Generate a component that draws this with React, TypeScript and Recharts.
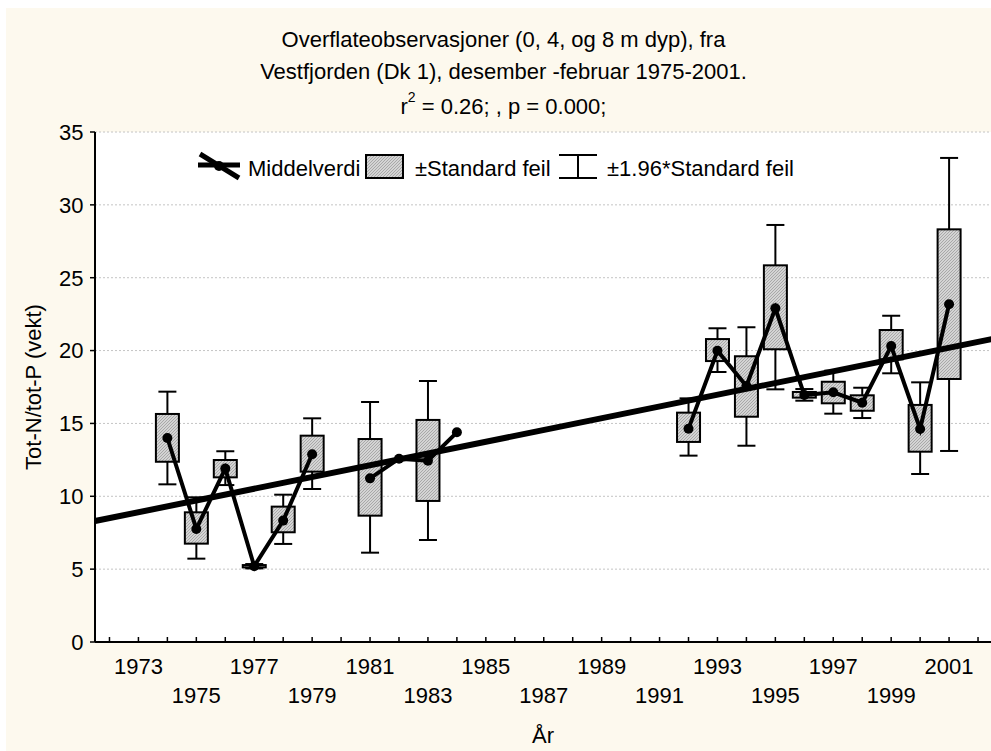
import React from "react";
import {
  ComposedChart,
  Bar,
  Line,
  XAxis,
  YAxis,
  CartesianGrid,
  ReferenceLine,
} from "recharts";

const FONT = '"Liberation Sans", Arial, sans-serif';
const CREAM = "#fdf9ee";

// one entry per winter, gaps where nothing was sampled
const years = [
  1974, 1975, 1976, 1977, 1978, 1979, 1980, 1981, 1982, 1983, 1984, 1985, 1986,
  1987, 1988, 1989, 1990, 1991, 1992, 1993, 1994, 1995, 1996, 1997, 1998, 1999,
  2000, 2001,
];
const means = [
  14.0, 7.76, 11.9, 5.2, 8.33, 12.88, null, 11.23, 12.58, 12.44, 14.39, null,
  null, null, null, null, null, null, 14.64, 19.99, 17.57, 22.9, 16.95, 17.14,
  16.42, 20.31, 14.62, 23.18,
];
// mean +/- standard error (box)
const seLow = [
  12.37, 6.75, 11.3, 5.12, 7.53, 11.69, null, 8.67, null, 9.68, null, null,
  null, null, null, null, null, null, 13.73, 19.28, 15.46, 20.09, 16.77, 16.38,
  15.87, 19.4, 13.06, 18.05,
];
const seHigh = [
  15.65, 8.9, 12.49, 5.28, 9.29, 14.16, null, 13.93, null, 15.24, null, null,
  null, null, null, null, null, null, 15.74, 20.79, 19.61, 25.85, 17.16, 17.86,
  16.93, 21.41, 16.27, 28.32,
];
// mean +/- 1.96 * standard error (whiskers)
const ciLow = [
  10.82, 5.72, 10.77, 5.05, 6.73, 10.5, null, 6.13, null, 7.0, null, null, null,
  null, null, null, null, null, 12.79, 18.53, 13.47, 17.34, 16.56, 15.67, 15.37,
  18.44, 11.53, 13.11,
];
const ciHigh = [
  17.18, 9.93, 13.09, 5.35, 10.11, 15.35, null, 16.47, null, 17.91, null, null,
  null, null, null, null, null, null, 16.72, 21.53, 21.6, 28.62, 17.36, 18.62,
  17.45, 22.39, 17.82, 33.22,
];

const yearTicks = [
  1972, 1973, 1974, 1975, 1976, 1977, 1978, 1979, 1980, 1981, 1982, 1983, 1984,
  1985, 1986, 1987, 1988, 1989, 1990, 1991, 1992, 1993, 1994, 1995, 1996, 1997,
  1998, 1999, 2000, 2001, 2002,
];
const valueTicks = [0, 5, 10, 15, 20, 25, 30, 35];

// fitted trend, read at the two ends of the x range
const trendX = [1971.5, 2002.5];
const trendY = [8.3, 20.8];

const rows = years.map((year, i) => ({
  year,
  mean: means[i],
  box: seLow[i] == null ? null : [seLow[i], seHigh[i]],
  ciLow: ciLow[i],
  ciHigh: ciHigh[i],
}));

function BoxShape(props: any) {
  const { x, y, width, height, payload } = props;
  if (!payload || payload.box == null) return null;
  const [lo, hi] = payload.box;
  const top = Math.min(y, y + height);
  const h = Math.abs(height);
  const ppu = h / (hi - lo);
  const wTop = top - (payload.ciHigh - hi) * ppu;
  const wBottom = top + h + (lo - payload.ciLow) * ppu;
  const cx = x + width / 2;
  const cap = 9;
  return (
    <g>
      <line x1={cx} x2={cx} y1={wTop} y2={wBottom} stroke="#000" strokeWidth={2} />
      <line x1={cx - cap} x2={cx + cap} y1={wTop} y2={wTop} stroke="#000" strokeWidth={2} />
      <line x1={cx - cap} x2={cx + cap} y1={wBottom} y2={wBottom} stroke="#000" strokeWidth={2} />
      <rect x={x} y={top} width={width} height={h} fill="url(#hatch)" stroke="#000" strokeWidth={2} />
    </g>
  );
}

function YearTick(props: any) {
  const { x, y, payload } = props;
  const yr = payload.value;
  let label = null;
  if (yr % 2 === 1) {
    const row = (yr - 1973) % 4 === 0 ? 0 : 1;
    label = (
      <text x={x} y={y + (row === 0 ? 32 : 61)} textAnchor="middle" fill="#000" fontSize={22}>
        {yr}
      </text>
    );
  }
  return (
    <g>
      <line x1={x} x2={x} y1={y} y2={y - 5} stroke="#000" strokeWidth={1.5} />
      {label}
    </g>
  );
}

function TopTick(props: any) {
  const { x, y } = props;
  return <line x1={x} x2={x} y1={y} y2={y + 5} stroke="#000" strokeWidth={1.5} />;
}

function RightTick(props: any) {
  const { x, y } = props;
  return <line x1={x} x2={x - 5} y1={y} y2={y} stroke="#000" strokeWidth={1.5} />;
}

const frame = { stroke: "#000", strokeWidth: 2 };

export default function App() {
  return (
    <div
      style={{
        position: "absolute",
        left: 6,
        top: 8,
        width: 985,
        height: 743,
        overflow: "hidden",
        background: CREAM,
        fontFamily: FONT,
      }}
    >
      <ComposedChart
        width={990}
        height={743}
        data={rows}
        margin={{ top: 124, right: 3.5, bottom: 9, left: 49 }}
      >
        <defs>
          <pattern id="hatch" width="3" height="3" patternUnits="userSpaceOnUse">
            <rect width="3" height="3" fill="#d4d4d4" />
            <path d="M0,3 L3,0" stroke="#a8a8a8" strokeWidth="1" />
          </pattern>
        </defs>
        <CartesianGrid vertical={false} fill="#fff" fillOpacity={1} stroke="#c4c4c4" strokeDasharray="2 2" />
        <XAxis
          dataKey="year"
          type="number"
          domain={[1971.5, 2002.5]}
          ticks={yearTicks}
          interval={0}
          height={100}
          tickLine={false}
          tickSize={0}
          tickMargin={0}
          axisLine={frame}
          tick={<YearTick />}
        />
        <XAxis
          xAxisId="top"
          orientation="top"
          dataKey="year"
          type="number"
          domain={[1971.5, 2002.5]}
          ticks={yearTicks}
          interval={0}
          height={0}
          tickLine={false}
          tickSize={0}
          tickMargin={0}
          axisLine={frame}
          tick={<TopTick />}
        />
        <YAxis
          type="number"
          domain={[0, 35]}
          ticks={valueTicks}
          interval={0}
          width={40}
          tickSize={5}
          tickMargin={6.5}
          axisLine={frame}
          tickLine={{ stroke: "#000", strokeWidth: 1.5 }}
          tick={{ fill: "#000", fontSize: 22 }}
        />
        <YAxis
          yAxisId="right"
          orientation="right"
          type="number"
          domain={[0, 35]}
          ticks={valueTicks}
          interval={0}
          width={0}
          tickLine={false}
          tickSize={0}
          tickMargin={0}
          axisLine={frame}
          tick={<RightTick />}
        />
        <Bar dataKey="box" barSize={23} shape={<BoxShape />} isAnimationActive={false} />
        <ReferenceLine
          segment={[
            { x: trendX[0], y: trendY[0] },
            { x: trendX[1], y: trendY[1] },
          ]}
          stroke="#000"
          strokeWidth={6}
          ifOverflow="visible"
        />
        <Line
          dataKey="mean"
          stroke="#000"
          strokeWidth={4}
          dot={{ r: 5, fill: "#000", stroke: "#000", strokeWidth: 0 }}
          connectNulls={false}
          isAnimationActive={false}
        />
      </ComposedChart>

      <svg
        width={985}
        height={743}
        style={{ position: "absolute", left: 0, top: 0, pointerEvents: "none" }}
        fontFamily={FONT}
        fontSize={22}
      >
        <defs>
          <pattern id="hatchLegend" width="3" height="3" patternUnits="userSpaceOnUse">
            <rect width="3" height="3" fill="#d4d4d4" />
            <path d="M0,3 L3,0" stroke="#a8a8a8" strokeWidth="1" />
          </pattern>
        </defs>
        <text x={497.5} y={39} textAnchor="middle" fill="#000">
          Overflateobservasjoner (0, 4, og 8 m dyp), fra
        </text>
        <text x={497.5} y={71} textAnchor="middle" fill="#000">
          Vestfjorden (Dk 1), desember -februar 1975-2001.
        </text>
        <text x={497.5} y={106} textAnchor="middle" fill="#000">
          r<tspan fontSize={14} dy={-12}>2</tspan>
          <tspan dy={12}> = 0.26; , p = 0.000;</tspan>
        </text>

        {/* legend */}
        <line x1={192} x2={234} y1={157} y2={157} stroke="#000" strokeWidth={5} />
        <line x1={194} x2={233} y1={146} y2={170} stroke="#000" strokeWidth={5} />
        <circle cx={213} cy={158} r={5} fill="#000" />
        <text x={242} y={168} fill="#000">Middelverdi</text>
        <rect x={360} y={147} width={37} height={23} fill="url(#hatchLegend)" stroke="#000" strokeWidth={2} />
        <text x={409} y={168} fill="#000">±Standard feil</text>
        <line x1={553} x2={591} y1={147} y2={147} stroke="#000" strokeWidth={2} />
        <line x1={553} x2={591} y1={170} y2={170} stroke="#000" strokeWidth={2} />
        <line x1={572} x2={572} y1={147} y2={170} stroke="#000" strokeWidth={2} />
        <text x={601} y={168} fill="#000">±1.96*Standard feil</text>

        <text x={537} y={734.5} textAnchor="middle" fill="#000">År</text>
        <text x={34.5} y={379} textAnchor="middle" fill="#000" transform="rotate(-90, 34.5, 379)">
          Tot-N/tot-P (vekt)
        </text>
      </svg>
    </div>
  );
}
